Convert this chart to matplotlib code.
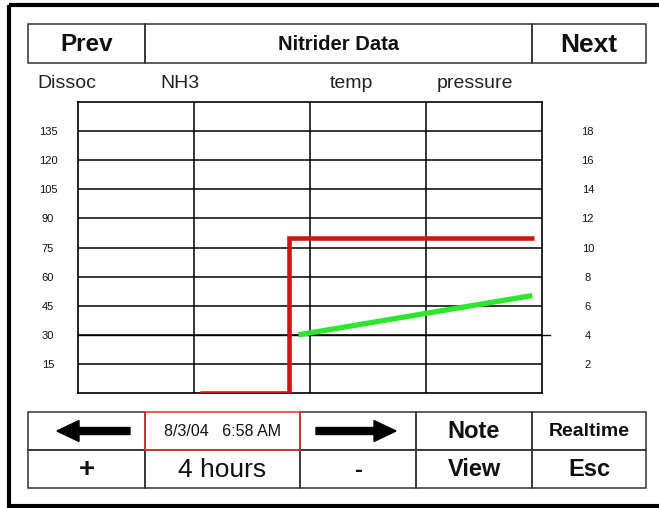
import matplotlib.pyplot as plt
from matplotlib.patches import Rectangle, FancyArrow

plt.rcParams['font.family'] = ['Liberation Sans', 'DejaVu Sans']

W, H = 659, 508

# chart data, x in minutes across a 4 hour window
window_minutes = [0, 60, 120, 180, 240]
left_ticks = [15, 30, 45, 60, 75, 90, 105, 120, 135]
right_ticks = [2, 4, 6, 8, 10, 12, 14, 16, 18]
red_minutes = [63, 109, 109, 236]
red_values = [0, 0, 80, 80]
green_minutes = [114, 235]
green_values = [4.0, 6.7]
cursor_level = 30
series_names = ['Dissoc', 'NH3', 'temp', 'pressure']
stamp = '8/3/04   6:58 AM'
span = '4 hours'

fig = plt.figure(figsize=(W / 100, H / 100), dpi=100)
fig.patch.set_facecolor('white')

# screen overlay in pixel coordinates
ui = fig.add_axes([0, 0, 1, 1])
ui.set_xlim(0, W)
ui.set_ylim(H, 0)
ui.axis('off')


def cell(x0, x1, y0, y1, text='', size=14, weight='bold', edge='#333333'):
    ui.add_patch(Rectangle((x0, y0), x1 - x0, y1 - y0, fill=False,
                           ec=edge, lw=1.1))
    if text:
        ui.text((x0 + x1) / 2, (y0 + y1) / 2 + 1, text, ha='center',
                va='center', fontsize=size, fontweight=weight, color='#111111')


# outer frame (right side runs off the screen)
ui.add_patch(Rectangle((9, 5), 700, 500.5, fill=False, ec='black', lw=3))

# header
cell(28, 145, 24, 63, 'Prev', 17.5)
cell(145, 532, 24, 63, 'Nitrider Data', 14.5)
cell(532, 646, 24, 63, 'Next', 19)

# series names
for name, x in zip(series_names, [37, 160, 330, 437]):
    ui.text(x, 83, name, ha='left', va='center', fontsize=14, color='#222222')

# bottom buttons
cols = [28, 145, 300, 416, 532, 646]
cell(cols[0], cols[1], 412, 450)
cell(cols[2], cols[3], 412, 450)
cell(cols[3], cols[4], 412, 450, 'Note', 17)
cell(cols[4], cols[5], 412, 450, 'Realtime', 14)
cell(cols[0], cols[1], 450, 488, '+', 20)
cell(cols[1], cols[2], 450, 488, span, 19, 'normal')
cell(cols[2], cols[3], 450, 488, '-', 17)
cell(cols[3], cols[4], 450, 488, 'View', 17)
cell(cols[4], cols[5], 450, 488, 'Esc', 17)
cell(cols[1], cols[2], 412, 450, stamp, 11.5, 'normal', edge='#e03030')

ui.add_patch(FancyArrow(130, 431, -73, 0, width=7, head_width=21,
                        head_length=22, length_includes_head=True,
                        color='black'))
ui.add_patch(FancyArrow(316, 431, 80, 0, width=7, head_width=21,
                        head_length=22, length_includes_head=True,
                        color='black'))

# trend chart
ax = fig.add_axes([78 / W, 1 - 393 / H, 464 / W, 291 / H])
ax.set_xlim(window_minutes[0], window_minutes[-1])
ax.set_ylim(0, 150)
ax.set_xticks(window_minutes[1:-1])
ax.set_xticklabels([])
ax.set_yticks(left_ticks)
ax.tick_params(axis='both', length=0)
ax.tick_params(axis='y', pad=21.6, labelsize=8, labelcolor='#111111')
for lbl in ax.get_yticklabels():
    lbl.set_horizontalalignment('center')
ax.grid(True, color='black', lw=1.1)
for s in ax.spines.values():
    s.set_color('black')
    s.set_linewidth(1.2)
ax.axhline(cursor_level, xmin=0, xmax=(550 - 78) / 464, color='black',
           lw=1.0, clip_on=False)
ax.plot(red_minutes, red_values, color='#d01414', lw=3.3,
        solid_joinstyle='miter', solid_capstyle='butt', zorder=4)

ax2 = ax.twinx()
ax2.set_ylim(0, 20)
ax2.set_yticks(right_ticks)
ax2.tick_params(axis='y', length=0, pad=33, labelsize=8, labelcolor='#111111')
for lbl in ax2.get_yticklabels():
    lbl.set_horizontalalignment('center')
for s in ax2.spines.values():
    s.set_visible(False)
ax2.plot(green_minutes, green_values, color='#2de62d', lw=3.8,
         solid_capstyle='butt', zorder=4)

fig.savefig('out.png', dpi=100)
